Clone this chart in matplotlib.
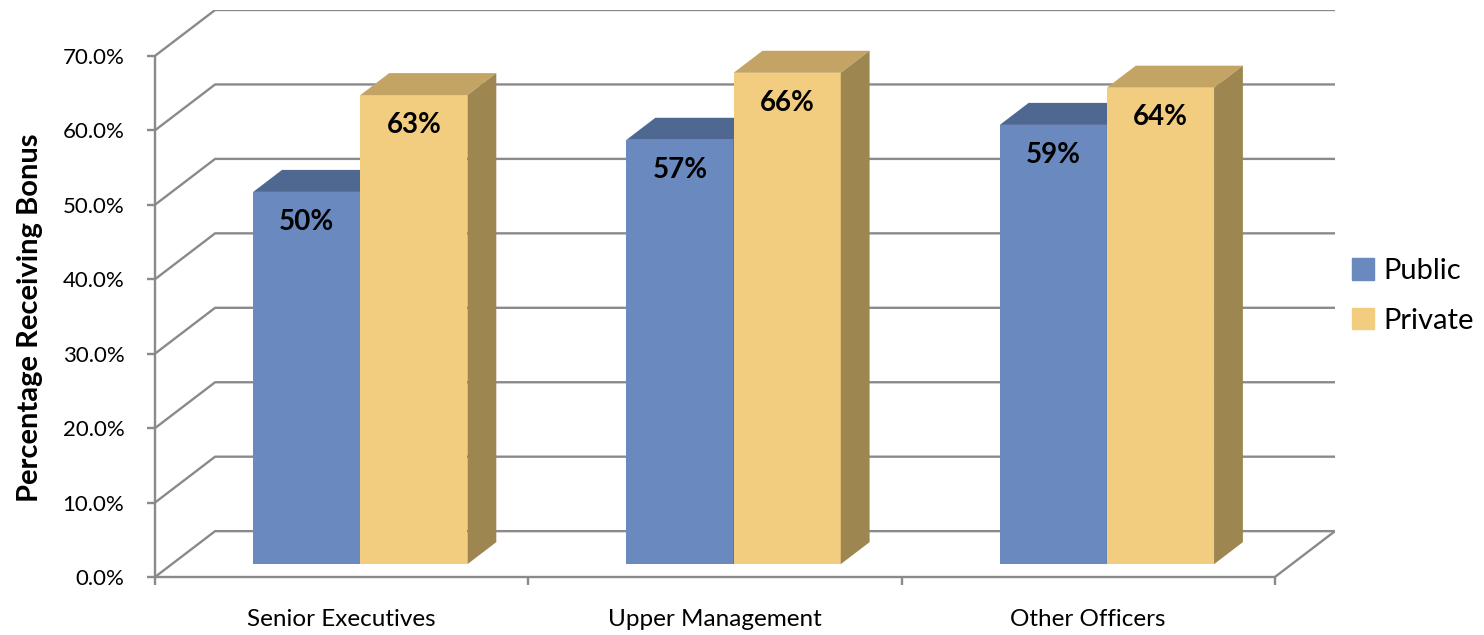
import matplotlib
matplotlib.use("Agg")
import matplotlib.pyplot as plt
from matplotlib.patches import Patch

plt.rcParams["font.family"] = ["Lato", "DejaVu Sans"]

# ---- data ----
categories = ["Senior Executives", "Upper Management", "Other Officers"]
series_names = ["Public", "Private"]
public_vals = [50, 57, 59]
private_vals = [63, 66, 64]
y_ticks = [0, 10, 20, 30, 40, 50, 60, 70]

# ---- oblique "3D" look ----
DX = 0.161          # depth shift in category units
DY = 6.16           # depth shift in percent units
Z0, Z1 = 0.28, 0.76  # bar depth range (fraction of floor depth)
BAR_W = 0.287
BAR_X0 = 0.263

GRID = "#8a8a8a"
front_cols = ["#6a89bf", "#f2cd80"]
top_cols = ["#4f6892", "#c4a464"]
side_cols = ["#3f5680", "#9e8651"]

W, H = 1484, 635
fig = plt.figure(figsize=(W / 100, H / 100), dpi=100)
ax = fig.add_axes([155 / W, (H - 577) / H, 1180 / W, 567 / H])
ax.set_xlim(0, 3 + DX)
ax.set_ylim(0, y_ticks[-1] + DY)

# gridlines: diagonal on the side wall, then along the back wall
for v in y_ticks:
    ax.plot([0, DX, 3 + DX], [v, v + DY, v + DY], color=GRID, lw=1.7,
            zorder=1, solid_capstyle="butt")
# floor right edge
ax.plot([3, 3 + DX], [0, DY], color=GRID, lw=1.7, zorder=1)


def draw_bar(x0, h, k):
    x1 = x0 + BAR_W
    yb = Z0 * DY
    yt = h + Z0 * DY
    ddx = (Z1 - Z0) * DX
    ddy = (Z1 - Z0) * DY
    ax.fill([x0, x1, x1, x0], [yb, yb, yt, yt], color=front_cols[k], lw=0, zorder=3)
    ax.fill([x0, x1, x1 + ddx, x0 + ddx], [yt, yt, yt + ddy, yt + ddy],
            color=top_cols[k], lw=0, zorder=3)
    ax.fill([x1, x1 + ddx, x1 + ddx, x1], [yb, yb + ddy, yt + ddy, yt],
            color=side_cols[k], lw=0, zorder=3)
    ax.text((x0 + x1) / 2, yt - 4.0, f"{h}%", ha="center", va="center",
            fontsize=20, fontweight="bold", color="black", zorder=5)


for i in range(len(categories)):
    draw_bar(i + BAR_X0, public_vals[i], 0)
    draw_bar(i + BAR_X0 + BAR_W, private_vals[i], 1)

# axes styling
for s in ["top", "right"]:
    ax.spines[s].set_visible(False)
ax.spines["left"].set_bounds(0, y_ticks[-1])
ax.spines["bottom"].set_bounds(0, 3)
for s in ["left", "bottom"]:
    ax.spines[s].set_color(GRID)
    ax.spines[s].set_linewidth(1.7)
    ax.spines[s].set_zorder(2)

ax.set_yticks(y_ticks)
ax.set_yticklabels([f"{v:.1f}%" for v in y_ticks])
ax.tick_params(axis="y", length=6, width=1.7, color=GRID, pad=16,
               labelsize=16, labelcolor="black")
ax.set_xticks([0, 1, 2, 3])
ax.set_xticklabels([])
ax.set_xticks([0.5, 1.5, 2.5], minor=True)
ax.set_xticklabels(categories, minor=True)
ax.tick_params(axis="x", which="major", length=6, width=1.7, color=GRID)
ax.tick_params(axis="x", which="minor", length=0, pad=23, labelsize=17.5)

fig.text(30 / W, 1 - 318 / H, "Percentage Receiving Bonus", rotation=90,
         ha="center", va="center", fontsize=21, fontweight="bold")

handles = [Patch(color=front_cols[k], label=series_names[k]) for k in range(2)]
fig.legend(handles=handles, loc="center left", bbox_to_anchor=(1340 / W, 1 - 296 / H),
           frameon=False, fontsize=21, handlelength=0.75, handleheight=0.75,
           handletextpad=0.35, labelspacing=0.8, borderaxespad=0)

fig.savefig("out.png", dpi=100)
